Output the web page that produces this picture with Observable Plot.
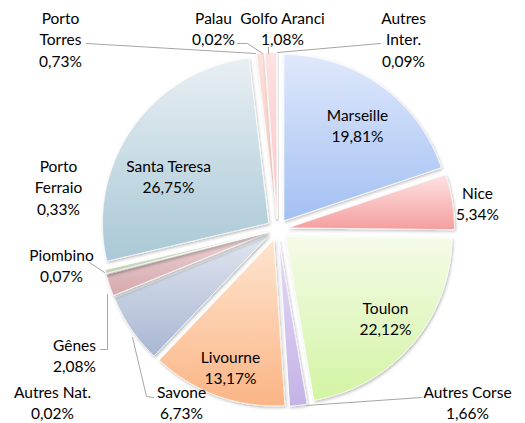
<!DOCTYPE html>
<html><head><meta charset="utf-8">
<script src="https://cdn.jsdelivr.net/npm/d3@7"></script>
<script src="https://cdn.jsdelivr.net/npm/@observablehq/plot@0.6"></script>
<style>body{margin:0;background:#fff} svg{font-family:Lato,"Open Sans",sans-serif}</style>
</head><body><div id="chart"></div>
<script>
// ---- data ----
const names = ["Marseille","Nice","Toulon","Autres Corse","Livourne","Savone","Autres Nat.","Gênes","Piombino","Porto Ferraio","Santa Teresa","Porto Torres","Palau","Golfo Aranci","Autres Inter."];
const values = [19.81,5.34,22.12,1.66,13.17,6.73,0.02,2.08,0.07,0.33,26.75,0.73,0.02,1.08,0.09];
const valueLabels = ["19,81%","5,34%","22,12%","1,66%","13,17%","6,73%","0,02%","2,08%","0,07%","0,33%","26,75%","0,73%","0,02%","1,08%","0,09%"];
const labelNames = ["Marseille","Nice","Toulon","Autres Corse","Livourne","Savone","Autres Nat.","Gênes","Piombino","Porto\nFerraio","Santa Teresa","Porto\nTorres","Palau","Golfo Aranci","Autres\nInter."];
const colorsTop = ["#dfe8fb","#fde3e3","#f4fbe8","#e4dbf4","#fee4cf","#e0e5ef","#d9e8d0","#ecd4d6","#ddd4ea","#dce8d2","#e8eff3","#fde0da","#dde6f5","#fde2e2","#eef0f2"];
const colorsBottom = ["#a3c0f3","#f59e9e","#d3f4a3","#c4b2e6","#fbb585","#a9b7d3","#c0d8b0","#d5a8ad","#c8bcdc","#c0d4b0","#a9c8d6","#f8c5bd","#c5d4ee","#fac4c4","#dde0e4"];

// ---- layout ----
const W = 525, H = 423, cx = 277, cy = 229, R = 166, explode = 11;
const labelPos = [[357,124],[477,202],[385,317],[467,401],[230,366],[181,401],[52,401],[74,354],[61,264],[58,186],[168,175],[60,38],[213,27],[282,27],[403,38]];
const leaders = [null,null,null,[[421,397],[306,405]],null,[[153,397],[146,396],[132,337]],null,[[100,349],[107,349],[107,294]],[[89,262],[104,272]],null,null,[[86,43],[255,53]],[[237,43],[247,43],[262,53]],[[268,47],[268,53]],[[380,43],[277,52]]];

const total = d3.sum(values);
let acc = 0;
const slices = values.map((v, i) => {
  const a0 = acc / total * 2 * Math.PI; acc += v;
  const a1 = acc / total * 2 * Math.PI;
  const mid = (a0 + a1) / 2;
  const ox = explode * Math.sin(mid), oy = -explode * Math.cos(mid);
  const pts = [{x: cx + ox, y: cy + oy}];
  const n = Math.max(2, Math.ceil((a1 - a0) / 0.01));
  for (let k = 0; k <= n; k++) {
    const a = a0 + (a1 - a0) * k / n;
    pts.push({x: cx + ox + R * Math.sin(a), y: cy + oy - R * Math.cos(a)});
  }
  return {i, pts};
});

const labelData = names.map((n, i) => ({x: labelPos[i][0], y: labelPos[i][1], text: labelNames[i] + "\n" + valueLabels[i]}));
const leaderData = [];
leaders.forEach((l, i) => { if (l) l.forEach(p => leaderData.push({x: p[0], y: p[1], z: i})); });

const plot = Plot.plot({
  width: W, height: H, margin: 0,
  x: {domain: [0, W], range: [0, W], axis: null},
  y: {domain: [0, H], range: [0, H], axis: null},
  marks: [
    ...slices.map(s => Plot.line(s.pts, {x: "x", y: "y", curve: "linear-closed", fill: `url(#g${s.i})`, stroke: "#ffffff", strokeOpacity: 0.7, strokeWidth: 1})),
    Plot.line(leaderData, {x: "x", y: "y", z: "z", stroke: "#a6a6a6", strokeWidth: 1}),
    Plot.text(labelData, {x: "x", y: "y", text: "text", fontSize: 15.5, lineHeight: 1.38, fill: "#000"})
  ]
});

const ns = "http://www.w3.org/2000/svg";
const defs = document.createElementNS(ns, "defs");
names.forEach((n, i) => {
  const g = document.createElementNS(ns, "linearGradient");
  g.setAttribute("id", "g" + i);
  g.setAttribute("x1", "0"); g.setAttribute("y1", "0"); g.setAttribute("x2", "0"); g.setAttribute("y2", "1");
  [[0, colorsTop[i]], [1, colorsBottom[i]]].forEach(([o, c]) => {
    const s = document.createElementNS(ns, "stop");
    s.setAttribute("offset", o); s.setAttribute("stop-color", c);
    g.appendChild(s);
  });
  defs.appendChild(g);
});
const f = document.createElementNS(ns, "filter");
f.setAttribute("id", "shadow"); f.setAttribute("x", "-10%"); f.setAttribute("y", "-10%"); f.setAttribute("width", "120%"); f.setAttribute("height", "120%");
const ds = document.createElementNS(ns, "feDropShadow");
ds.setAttribute("dx", "1"); ds.setAttribute("dy", "1.5"); ds.setAttribute("stdDeviation", "1.5"); ds.setAttribute("flood-color", "#000"); ds.setAttribute("flood-opacity", "0.28");
f.appendChild(ds); defs.appendChild(f);
plot.insertBefore(defs, plot.firstChild);
const lineGroups = plot.querySelectorAll('g[aria-label="line"]');
for (let k = 0; k < slices.length && k < lineGroups.length; k++) lineGroups[k].setAttribute("filter", "url(#shadow)");
document.getElementById("chart").appendChild(plot);
</script></body></html>
